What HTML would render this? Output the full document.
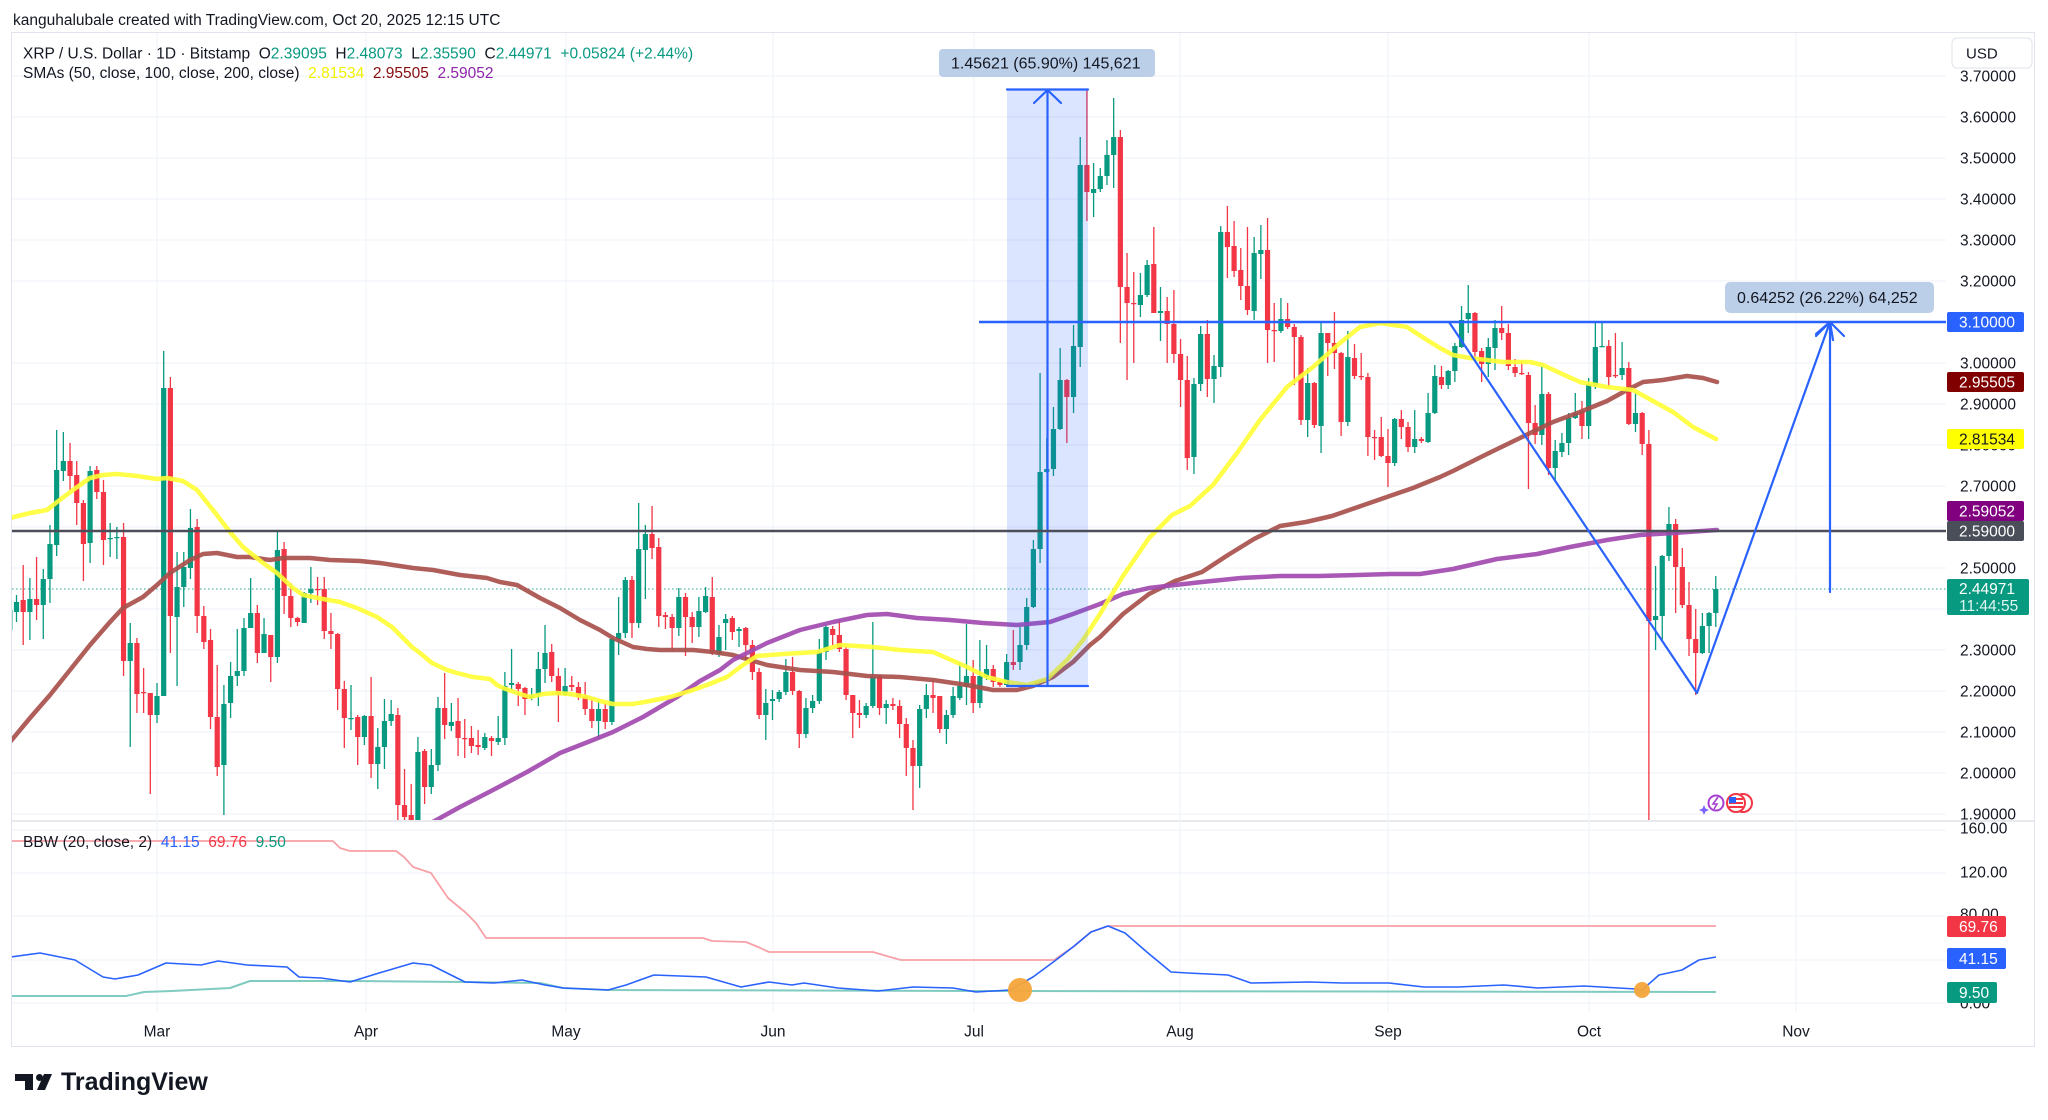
<!DOCTYPE html>
<html>
<head>
<meta charset="utf-8">
<style>
html,body{margin:0;padding:0;background:#fff;}
svg{display:block;}
text{font-family:"Liberation Sans",Arial,sans-serif;}
</style>
</head>
<body>
<svg xmlns="http://www.w3.org/2000/svg" width="2048" height="1120" viewBox="0 0 2048 1120">
<defs>
  <clipPath id="mc"><rect x="12" y="33" width="1934" height="787"/></clipPath>
  <clipPath id="bc"><rect x="12" y="822" width="1934" height="190"/></clipPath>
</defs>
<rect width="2048" height="1120" fill="#ffffff"/>

<text x="13" y="25" font-size="15.5" fill="#131722">kanguhalubale created with TradingView.com, Oct 20, 2025 12:15 UTC</text>

<!-- frame -->
<rect x="11.5" y="32.5" width="2023" height="1014" fill="none" stroke="#e0e3eb" stroke-width="1"/>
<line x1="12" y1="821" x2="2034" y2="821" stroke="#e0e3eb" stroke-width="1.5"/>

<!-- grid main -->
<g stroke="#f0f3fa" stroke-width="1.2">
  <line x1="12" y1="76" x2="1946" y2="76"/>
  <line x1="12" y1="117" x2="1946" y2="117"/>
  <line x1="12" y1="158" x2="1946" y2="158"/>
  <line x1="12" y1="199" x2="1946" y2="199"/>
  <line x1="12" y1="240" x2="1946" y2="240"/>
  <line x1="12" y1="281" x2="1946" y2="281"/>
  <line x1="12" y1="363" x2="1946" y2="363"/>
  <line x1="12" y1="404" x2="1946" y2="404"/>
  <line x1="12" y1="445" x2="1946" y2="445"/>
  <line x1="12" y1="486" x2="1946" y2="486"/>
  <line x1="12" y1="527" x2="1946" y2="527"/>
  <line x1="12" y1="568" x2="1946" y2="568"/>
  <line x1="12" y1="609" x2="1946" y2="609"/>
  <line x1="12" y1="650" x2="1946" y2="650"/>
  <line x1="12" y1="691" x2="1946" y2="691"/>
  <line x1="12" y1="732" x2="1946" y2="732"/>
  <line x1="12" y1="773" x2="1946" y2="773"/>
  <line x1="12" y1="814" x2="1946" y2="814"/>
  <line x1="12" y1="830" x2="1946" y2="830"/>
  <line x1="12" y1="873" x2="1946" y2="873"/>
  <line x1="12" y1="916" x2="1946" y2="916"/>
  <line x1="12" y1="960" x2="1946" y2="960"/>
  <line x1="12" y1="1003" x2="1946" y2="1003"/>
  <line x1="157" y1="33" x2="157" y2="1012"/>
  <line x1="366" y1="33" x2="366" y2="1012"/>
  <line x1="566" y1="33" x2="566" y2="1012"/>
  <line x1="773" y1="33" x2="773" y2="1012"/>
  <line x1="974" y1="33" x2="974" y2="1012"/>
  <line x1="1180" y1="33" x2="1180" y2="1012"/>
  <line x1="1388" y1="33" x2="1388" y2="1012"/>
  <line x1="1589" y1="33" x2="1589" y2="1012"/>
  <line x1="1796" y1="33" x2="1796" y2="1012"/>
</g>

<g clip-path="url(#mc)">
  <line x1="12" y1="589" x2="1946" y2="589" stroke="#089981" stroke-width="1.2" stroke-dasharray="1.5 2.5" opacity="0.7"/>
  <!-- candles -->
  <path id="gw" d="" stroke="#089981" stroke-width="1.3" fill="none"/>
  <path id="rw" d="" stroke="#f23645" stroke-width="1.3" fill="none"/>
  <path id="gb" d="" fill="#089981"/>
  <path id="rb" d="" fill="#f23645"/>

  <!-- SMAs -->
  <polyline fill="none" stroke="#a8504c" stroke-opacity="0.92" stroke-width="4.5" stroke-linejoin="round" stroke-linecap="round" points="10,742 30,718 50,695 70,670 90,645 110,622 123,608 143,597 157,585 170,573 190,560 203,554 217,553 237,557 250,557 270,560 283,558 310,558 330,560 360,561 380,563 393,565 413,568 433,570 460,575 487,578 500,582 517,585 540,598 560,608 580,620 600,630 613,638 633,647 647,649 660,650 693,650 713,652 733,655 767,665 800,670 833,672 867,676 900,677 933,680 967,685 993,690 1017,690 1033,686 1053,677 1073,662 1090,645 1100,637 1123,614 1149,594 1175,581 1202,572 1228,555 1254,539 1280,526 1306,522 1332,516 1358,507 1384,498 1413,488 1440,477 1453,471 1487,454 1520,438 1553,422 1580,412 1607,401 1627,390 1643,382 1663,380 1687,376 1703,378 1717,382"/>
  <polyline fill="none" stroke="#a24aaf" stroke-opacity="0.92" stroke-width="4.5" stroke-linejoin="round" stroke-linecap="round" points="420,829 431,823 460,807 493,790 527,772 560,753 593,740 613,732 643,717 677,697 700,681 720,670 733,660 767,643 800,630 833,622 867,615 887,614 917,618 950,620 983,623 1017,625 1050,622 1073,614 1100,604 1123,594 1149,588 1175,585 1202,582 1241,578 1280,576 1319,576 1358,575 1390,574 1420,574 1453,569 1497,559 1537,554 1570,547 1607,540 1640,535 1673,533 1717,530"/>
  <polyline fill="none" stroke="#ffff33" stroke-opacity="0.9" stroke-width="4.5" stroke-linejoin="round" stroke-linecap="round" points="10,518 30,513 47,510 57,502 73,490 90,478 103,475 117,474 137,476 157,479 167,478 183,481 197,490 213,510 230,532 243,547 263,563 277,573 293,588 303,595 323,599 340,602 357,608 377,617 392,627 402,637 412,647 420,653 432,663 447,670 457,673 473,677 490,679 497,685 503,688 517,693 530,697 543,694 557,693 570,694 587,697 600,701 613,704 633,704 650,701 670,697 690,691 707,685 727,677 743,665 757,656 783,654 817,652 840,645 873,647 900,650 933,652 967,667 987,677 1007,682 1027,685 1047,679 1067,660 1083,640 1100,614 1123,576 1149,538 1172,515 1190,506 1213,485 1237,453 1260,420 1287,387 1313,367 1340,343 1360,327 1380,323 1407,327 1427,340 1440,348 1453,355 1470,358 1503,362 1530,362 1543,365 1560,373 1580,382 1607,387 1633,390 1653,401 1673,412 1693,427 1716,439"/>

  <!-- drawings -->
  <rect x="1007" y="89.5" width="81" height="596.5" fill="#2962ff" fill-opacity="0.17"/>
  <g stroke="#2962ff" stroke-width="2.2" fill="none" stroke-linecap="round" stroke-linejoin="round">
    <line x1="1007" y1="89.5" x2="1088" y2="89.5"/>
    <line x1="1007" y1="686" x2="1088" y2="686"/>
    <line x1="1047.5" y1="686" x2="1047.5" y2="90"/>
    <polyline points="1034,103 1047.5,90 1061,103"/>
  </g>
  <line x1="979" y1="322" x2="1946" y2="322" stroke="#2962ff" stroke-width="2.5"/>
  <line x1="12" y1="531" x2="1946" y2="531" stroke="#4c4f5a" stroke-width="2.5"/>
  <g stroke="#2962ff" stroke-width="2.2" fill="none" stroke-linecap="round" stroke-linejoin="round">
    <polyline points="1449,322 1697,693 1830,322"/>
    <polyline points="1816,334 1830,322 1833,340"/>
    <line x1="1830" y1="592" x2="1830" y2="323"/>
    <polyline points="1816,336 1830,322 1844,336"/>
  </g>

  <!-- icons -->
  <g>
    <circle cx="1743" cy="803" r="9" fill="#fff" stroke="#f23645" stroke-width="2"/>
    <circle cx="1736" cy="803" r="9" fill="#fff" stroke="#f23645" stroke-width="2"/>
    <rect x="1729" y="798" width="14" height="2" fill="#f23645"/>
    <rect x="1729" y="802" width="14" height="2" fill="#f23645"/>
    <rect x="1729" y="806" width="14" height="2" fill="#f23645"/>
    <rect x="1729" y="797" width="7" height="6" fill="#2962ff"/>
    <circle cx="1716" cy="803" r="7.5" fill="#fff" stroke="#a63fd0" stroke-width="2"/>
    <path d="M1718 797 L1713 804 L1717 804 L1714 809" stroke="#a63fd0" fill="none" stroke-width="1.6"/>
    <path d="M1704 805 L1705.5 808.5 L1709 810 L1705.5 811.5 L1704 815 L1702.5 811.5 L1699 810 L1702.5 808.5Z" fill="#7b61ff"/>
  </g>
</g>

<!-- measurement labels -->
<rect x="939" y="49" width="216" height="28" rx="4" fill="#bccfe9"/>
<text x="951" y="68.5" font-size="16" fill="#131722">1.45621 (65.90%) 145,621</text>
<rect x="1725" y="282" width="209" height="31" rx="5" fill="#bccfe9"/>
<text x="1737" y="303" font-size="16" fill="#131722">0.64252 (26.22%) 64,252</text>

<!-- legend -->
<text x="23" y="58.5" font-size="15.5" fill="#131722" xml:space="preserve">XRP / U.S. Dollar · 1D · Bitstamp  O<tspan fill="#089981">2.39095</tspan>  H<tspan fill="#089981">2.48073</tspan>  L<tspan fill="#089981">2.35590</tspan>  C<tspan fill="#089981">2.44971</tspan>  <tspan fill="#089981">+0.05824 (+2.44%)</tspan></text>
<text x="23" y="78" font-size="15.5" fill="#131722" xml:space="preserve">SMAs (50, close, 100, close, 200, close)  <tspan fill="#f2f200">2.81534</tspan>  <tspan fill="#880e0e">2.95505</tspan>  <tspan fill="#8e24aa">2.59052</tspan></text>

<!-- price axis -->
<g font-size="15.5" fill="#131722">
  <text x="1960" y="81.6">3.70000</text>
  <text x="1960" y="122.6">3.60000</text>
  <text x="1960" y="163.6">3.50000</text>
  <text x="1960" y="204.6">3.40000</text>
  <text x="1960" y="245.6">3.30000</text>
  <text x="1960" y="286.6">3.20000</text>
  <text x="1960" y="368.6">3.00000</text>
  <text x="1960" y="409.6">2.90000</text>
  <text x="1960" y="450.6">2.80000</text>
  <text x="1960" y="491.6">2.70000</text>
  <text x="1960" y="573.6">2.50000</text>
  <text x="1960" y="655.6">2.30000</text>
  <text x="1960" y="696.6">2.20000</text>
  <text x="1960" y="737.6">2.10000</text>
  <text x="1960" y="778.6">2.00000</text>
  <text x="1960" y="819.6">1.90000</text>
  <text x="1960" y="833.6">160.00</text>
  <text x="1960" y="877.6">120.00</text>
  <text x="1960" y="919.6">80.00</text>
  <text x="1960" y="1008.6">0.00</text>
</g>
<rect x="1952" y="38" width="80" height="30" rx="5" fill="#fff" stroke="#e0e3eb"/>
<text x="1966" y="58.5" font-size="15" fill="#131722">USD</text>

<g font-size="15.5">
  <rect x="1947" y="312" width="77" height="20" rx="2" fill="#2962ff"/>
  <text x="1959" y="327.6" fill="#fff">3.10000</text>
  <rect x="1947" y="372" width="77" height="20" rx="2" fill="#800000"/>
  <text x="1959" y="387.6" fill="#fff">2.95505</text>
  <rect x="1947" y="429" width="77" height="20" rx="2" fill="#ffff00"/>
  <text x="1959" y="444.6" fill="#131722">2.81534</text>
  <rect x="1947" y="501" width="77" height="20" rx="2" fill="#800080"/>
  <text x="1959" y="516.6" fill="#fff">2.59052</text>
  <rect x="1947" y="521" width="77" height="20" rx="2" fill="#4a4e59"/>
  <text x="1959" y="536.6" fill="#fff">2.59000</text>
  <rect x="1947" y="579" width="82" height="36" rx="2" fill="#089981"/>
  <text x="1959" y="594" fill="#fff">2.44971</text>
  <text x="1959" y="611" fill="#e0f5f1">11:44:55</text>
  <rect x="1947" y="916" width="59" height="21" rx="2" fill="#f23645"/>
  <text x="1959" y="932" fill="#fff">69.76</text>
  <rect x="1947" y="948" width="59" height="21" rx="2" fill="#2962ff"/>
  <text x="1959" y="964" fill="#fff">41.15</text>
  <rect x="1947" y="982" width="50" height="21" rx="2" fill="#089981"/>
  <text x="1959" y="998" fill="#fff">9.50</text>
</g>

<!-- BBW pane -->
<g clip-path="url(#bc)">
  <polyline fill="none" stroke="#f7a1a8" stroke-width="1.8" stroke-linejoin="round" points="11,841 333,841 340,848 350,851 396,851 404,857 413,867 431,873 448,898 465,912 476,923 486,938 703,938 712,941 746,942 758,947 769,952 873,952 890,957 901,960 1054,960 1073,947 1091,932 1108,926 1716,926"/>
  <polyline fill="none" stroke="#80cbc0" stroke-width="2" stroke-linejoin="round" points="11,996 126,996 144,992 172,991 230,988 250,981 350,981 465,982 540,983 563,988 608,990 976,991 1010,991 1716,992"/>
  <polyline fill="none" stroke="#2962ff" stroke-width="1.6" stroke-linejoin="round" points="11,957 40,953 75,960 103,977 115,979 138,975 166,963 201,965 218,961 247,965 287,967 299,977 321,978 350,982 379,973 413,963 431,965 465,982 494,983 522,980 545,985 563,988 608,990 626,985 654,975 706,977 741,987 769,982 792,985 804,983 838,988 878,991 913,987 953,988 976,992 1010,990 1033,977 1056,960 1073,947 1091,932 1108,926 1125,933 1148,953 1171,972 1188,973 1228,975 1251,983 1309,982 1343,983 1389,983 1424,987 1458,987 1504,985 1538,988 1584,986 1636,989 1642,990 1659,975 1682,970 1699,960 1716,957"/>
  <circle cx="1020" cy="990" r="12" fill="#f6a53a" fill-opacity="0.95"/>
  <circle cx="1642" cy="990" r="8" fill="#f6a53a" fill-opacity="0.95"/>
</g>
<text x="23" y="847" font-size="15.5" fill="#131722" xml:space="preserve">BBW (20, close, 2)  <tspan fill="#2962ff">41.15</tspan>  <tspan fill="#f23645">69.76</tspan>  <tspan fill="#089981">9.50</tspan></text>

<!-- time axis -->
<g font-size="15.5" fill="#131722" text-anchor="middle">
  <text x="157" y="1036.6">Mar</text>
  <text x="366" y="1036.6">Apr</text>
  <text x="566" y="1036.6">May</text>
  <text x="773" y="1036.6">Jun</text>
  <text x="974" y="1036.6">Jul</text>
  <text x="1180" y="1036.6">Aug</text>
  <text x="1388" y="1036.6">Sep</text>
  <text x="1589" y="1036.6">Oct</text>
  <text x="1796" y="1036.6">Nov</text>
</g>

<!-- logo -->
<g fill="#131722">
  <rect x="15" y="1074" width="18" height="7"/>
  <rect x="25" y="1074" width="8" height="16"/>
  <circle cx="39.5" cy="1077.5" r="3.5"/>
  <path d="M44 1074 L52 1074 L45 1090 L37 1090 Z"/>
</g>
<text x="61" y="1090" font-size="25" font-weight="bold" fill="#131722">TradingView</text>
</svg>

<script>
(function(){
var C=[
[630,610,607,640],[612,602,595,622],[600,612,565,645],[612,599,578,640],[599,605,557,620],
[605,579,569,639],[579,544,525,603],[545,470,430,556],[471,461,432,481],[461,476,443,490],
[475,503,461,525],[503,544,500,581],[543,471,466,563],[470,492,466,499],[492,540,480,565],
[539,538,523,557],[538,537,527,559],[537,661,523,676],[661,643,623,747],[643,694,638,713],
[692,693,668,713],[693,715,693,794],[715,696,683,723],[696,388,351,696],[388,616,377,653],
[617,587,552,686],[587,567,552,607],[568,528,509,579],[527,616,519,633],[616,642,606,649],
[640,717,629,729],[717,767,665,776],[765,704,685,815],[703,676,662,718],[676,671,629,686],
[671,628,618,676],[628,613,578,628],[613,653,605,663],[653,634,618,653],[635,657,635,682],
[657,550,531,663],[549,596,542,614],[596,618,583,627],[618,622,617,626],[623,593,592,623],
[593,589,567,603],[589,590,577,605],[589,631,577,639],[631,634,613,649],[634,689,633,710],
[689,718,681,748],[719,718,685,730],[717,737,715,765],[737,716,715,745],[716,764,677,778],
[764,747,728,789],[747,721,699,769],[721,714,700,726],[715,805,708,822],[805,817,769,822],
[815,822,784,823],[822,752,737,823],[751,787,749,804],[787,765,749,794],[765,708,697,771],
[708,725,673,739],[726,722,703,731],[721,738,698,756],[738,739,719,758],[738,746,726,753],
[745,747,730,755],[748,737,733,750],[738,741,736,756],[742,738,716,745],[738,686,672,745],
[685,683,649,690],[684,689,682,706],[688,699,687,715],[698,695,688,700],[695,669,652,706],
[669,653,625,683],[652,676,644,682],[676,695,668,722],[695,686,668,696],[685,687,676,691],
[687,697,682,700],[696,709,682,715],[709,721,699,728],[721,709,700,739],[709,722,703,729],
[722,639,638,725],[639,633,597,655],[633,580,577,638],[580,623,576,638],[623,549,503,628],
[550,534,525,599],[534,548,506,559],[547,616,538,627],[615,617,612,629],[617,628,614,650],
[628,597,588,636],[597,617,593,656],[617,627,612,643],[627,611,597,637],[612,596,587,613],
[597,653,577,655],[654,637,625,657],[623,619,614,650],[618,632,616,640],[631,629,627,647],
[628,645,627,660],[645,672,640,680],[672,715,668,719],[715,703,689,740],[701,699,690,720],
[699,692,690,702],[692,672,659,695],[672,691,657,695],[691,734,690,748],[734,708,698,738],
[708,701,695,713],[701,652,639,704],[652,627,625,660],[629,635,626,645],[635,649,620,652],
[649,695,647,700],[695,713,695,738],[713,715,700,728],[715,706,703,718],[706,676,622,708],
[676,708,675,715],[708,704,700,724],[704,706,698,710],[706,724,700,738],[724,748,718,776],
[748,766,740,810],[766,709,705,788],[709,695,684,718],[695,698,680,713],[696,729,696,733],
[729,715,710,744],[715,696,687,718],[698,686,662,700],[687,676,624,705],[676,703,660,713],
[703,676,640,708],[677,669,645,680],[669,682,665,687],[682,685,680,687],[685,662,654,686],
[662,665,630,670],[662,645,627,670],[645,607,598,650],[607,549,540,608],[549,472,373,563],
[472,469,438,473],[469,429,407,476],[429,380,348,430],[380,397,379,443],[397,346,325,413],
[347,165,137,367],[165,192,89,221],[193,189,163,217],[189,176,168,192],[176,155,140,185],
[155,137,98,188],[137,287,130,343],[287,303,253,380],[303,304,272,363],[305,295,273,317],
[295,265,260,297],[264,313,227,313],[313,311,287,341],[311,324,297,363],[324,354,290,363],
[354,380,339,407],[380,458,356,470],[457,384,378,474],[384,334,326,391],[334,379,320,397],
[379,366,355,403],[367,232,226,377],[232,247,206,278],[246,271,221,277],[270,286,248,300],
[286,310,227,315],[311,253,237,320],[254,250,225,279],[250,330,218,363],[330,331,303,362],
[331,319,298,333],[319,327,303,329],[327,337,324,385],[337,420,335,425],[420,383,368,437],
[383,425,382,428],[426,333,321,453],[333,343,333,376],[343,353,312,369],[353,422,352,436],
[422,357,331,426],[358,376,344,379],[376,377,353,380],[377,437,373,456],[437,438,430,460],
[437,456,417,457],[456,463,429,487],[463,419,418,466],[419,427,410,439],[427,447,422,452],
[447,439,410,453],[439,441,437,443],[442,413,393,443],[413,376,365,414],[377,385,366,389],
[385,371,370,389],[371,346,343,382],[347,320,306,348],[319,313,285,333],[313,352,312,361],
[351,364,348,382],[364,347,338,377],[348,328,320,370],[328,333,306,340],[333,366,324,370],
[367,373,359,377],[373,374,361,375],[375,423,372,489],[423,435,405,444],[435,394,366,445],
[394,468,392,475],[468,451,440,482],[452,443,433,457],[443,418,413,455],[418,413,393,419],
[411,426,401,439],[426,384,378,439],[385,347,321,389],[347,346,322,347],[346,377,340,387],
[375,376,333,378],[375,368,342,380],[368,424,362,425],[424,413,393,432],[413,444,412,455],
[444,621,430,830],[620,616,566,650],[616,556,555,641],[556,524,507,561],[524,567,519,613],
[567,605,548,608],[605,639,582,656],[639,653,609,695],[653,626,613,654],[626,613,612,653],
[613,589,576,627]
];
var gw='',rw='',gb='',rb='';
for(var i=0;i<C.length;i++){
  var d=i-22, x=157+6.69*d;
  var o=C[i][0], c=C[i][1], h=Math.min(C[i][2],o,c), l=Math.max(C[i][3],o,c);
  var up=c<o;
  var top=Math.min(o,c), ht=Math.max(1.2,Math.abs(o-c));
  var xs=x.toFixed(2);
  var w='M'+xs+' '+h+'V'+l;
  var b='M'+(x-2.6).toFixed(2)+' '+top+'h5.2v'+ht.toFixed(1)+'h-5.2z';
  if(up){gw+=w;gb+=b;}else{rw+=w;rb+=b;}
}
document.getElementById('gw').setAttribute('d',gw);
document.getElementById('rw').setAttribute('d',rw);
document.getElementById('gb').setAttribute('d',gb);
document.getElementById('rb').setAttribute('d',rb);
})();
</script>
</body>
</html>
